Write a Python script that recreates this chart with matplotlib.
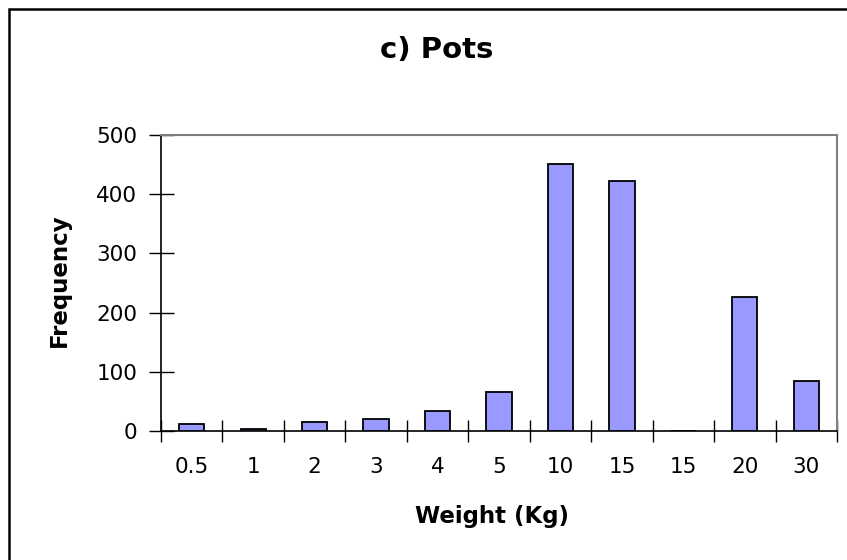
import matplotlib
matplotlib.use("Agg")
import matplotlib.pyplot as plt
import matplotlib.patches as mpatches
import numpy as np

# the reference text is wide, DejaVu Sans is the closest wide sans
plt.rcParams["font.family"] = ["DejaVu Sans"]

weights = ["0.5", "1", "2", "3", "4", "5", "10", "15", "15", "20", "30"]
frequency = [11, 4, 15, 21, 34, 66, 451, 423, 0, 227, 84]

W, H = 847, 560
fig = plt.figure(figsize=(W / 100, H / 100), dpi=100)
ax = fig.add_axes([161 / W, 1 - 431 / H, (837 - 161) / W, (431 - 135) / H])

x = np.arange(len(weights))
ax.bar(x, frequency, width=0.41, color="#9999FF", edgecolor="black", linewidth=1.3, zorder=3)

ax.set_xlim(-0.5, len(weights) - 0.5)
ax.set_ylim(0, 500)
ax.set_yticks(range(0, 501, 100))
ax.set_xticks(x)
ax.set_xticklabels(weights)
ax.set_xticks(np.arange(-0.5, len(weights), 1), minor=True)
ax.tick_params(axis="x", which="major", length=0, pad=19, labelsize=15.5)
ax.tick_params(axis="x", which="minor", length=16, direction="inout", width=1, color="black")
ax.tick_params(axis="y", length=18, direction="inout", width=1, labelsize=15.5, pad=8)

for side in ("left", "bottom"):
    ax.spines[side].set_color("black")
    ax.spines[side].set_linewidth(1.2)
for side in ("top", "right"):
    ax.spines[side].set_color("#808080")
    ax.spines[side].set_linewidth(1.5)

fig.text(492 / W, 1 - 517 / H, "Weight (Kg)", ha="center", va="center",
         fontsize=16.5, fontweight="bold")
fig.text(59 / W, 1 - 280 / H, "Frequency", ha="center", va="center", rotation=90,
         fontsize=16.5, fontweight="bold")
fig.text(437 / W, 1 - 50 / H, "c) Pots", ha="center", va="center",
         fontsize=21, fontweight="bold")

border = mpatches.Rectangle((9 / W, -0.1), 1.2, 1.1 - 9 / H, transform=fig.transFigure,
                            fill=False, edgecolor="black", linewidth=1.8, clip_on=False)
fig.patches.append(border)

fig.savefig("out.png", dpi=100)
